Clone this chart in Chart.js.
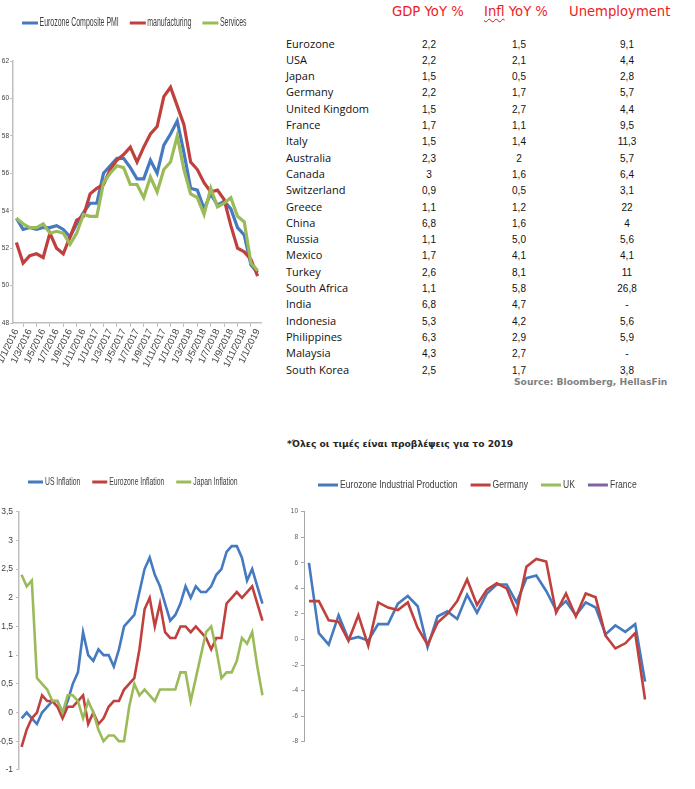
<!DOCTYPE html>
<html>
<head>
<meta charset="utf-8">
<script src="https://cdn.jsdelivr.net/npm/chart.js@4.4.1/dist/chart.umd.min.js"></script>
<style>
    html, body { margin: 0; padding: 0; background: #fff; }
    #page { position: relative; width: 695px; height: 789px; overflow: hidden; background: #fff; }
    canvas { position: absolute; }
    .hdr { position: absolute; top: 3px; font-family: "DejaVu Sans", sans-serif; font-size: 13.2px; color: #ee1c24; line-height: 18px; white-space: nowrap; }
    .wavy { text-decoration: underline wavy #e01010; text-decoration-thickness: 1px; text-underline-offset: 2px; text-decoration-skip-ink: none; }
    .cty { position: absolute; left: 286px; font-family: "Open Sans", sans-serif; font-size: 11px; color: #111; line-height: 16px; white-space: nowrap; }
    .val { position: absolute; width: 60px; margin-left: -30px; text-align: center; font-family: "Liberation Sans", sans-serif; font-size: 10px; color: #111; line-height: 16px; }
    .src { position: absolute; left: 514px; top: 375px; font-family: "DejaVu Sans", sans-serif; font-weight: bold; font-size: 9.2px; color: #7f7f7f; line-height: 14px; white-space: nowrap; }
    .note { position: absolute; left: 287px; top: 436.5px; font-family: "DejaVu Sans", sans-serif; font-weight: bold; font-size: 9.2px; color: #262626; line-height: 14px; white-space: nowrap; }
</style>
</head>
<body>
<div id="page">
    <canvas id="pmi" width="272" height="392" style="left:0;top:0"></canvas>
    <canvas id="infl" width="272" height="312" style="left:0;top:466px"></canvas>
    <canvas id="ip" width="375" height="280" style="left:285px;top:470px"></canvas>

    <div class="hdr" style="left:392px">GDP YoY %</div>
    <div class="hdr" style="left:484px"><span class="wavy">Infl</span> YoY %</div>
    <div class="hdr" style="left:569px">Unemployment</div>
    <div id="tabla"></div>
    <div class="src">Source: Bloomberg, HellasFin</div>
    <div class="note">*Όλες οι τιμές είναι προβλέψεις για το 2019</div>
</div>

<script>
// ==============================================================================
// 1. DATOS
// ==============================================================================

// PMI zona euro (mensual, ene 2016 - ene 2019)
const pmiMonths = [
    '1/1/2016', '1/2/2016', '1/3/2016', '1/4/2016', '1/5/2016', '1/6/2016', '1/7/2016', '1/8/2016', '1/9/2016', '1/10/2016', '1/11/2016', '1/12/2016',
    '1/1/2017', '1/2/2017', '1/3/2017', '1/4/2017', '1/5/2017', '1/6/2017', '1/7/2017', '1/8/2017', '1/9/2017', '1/10/2017', '1/11/2017', '1/12/2017',
    '1/1/2018', '1/2/2018', '1/3/2018', '1/4/2018', '1/5/2018', '1/6/2018', '1/7/2018', '1/8/2018', '1/9/2018', '1/10/2018', '1/11/2018', '1/12/2018',
    '1/1/2019'
];
const pmiComposite = [53.6, 53.0, 53.1, 53.0, 53.1, 53.1, 53.2, 53.0, 52.6, 53.3, 53.9, 54.4, 54.4, 56.0, 56.4, 56.8, 56.8, 56.3, 55.7, 55.7, 56.7, 56.0, 57.5, 58.1, 58.8, 57.1, 55.2, 55.1, 54.1, 54.9, 54.3, 54.5, 54.1, 53.1, 52.7, 51.1, 50.7];
const pmiManufacturing = [52.3, 51.2, 51.6, 51.7, 51.5, 52.8, 52.0, 51.7, 52.6, 53.5, 53.7, 54.9, 55.2, 55.4, 56.2, 56.7, 57.0, 57.4, 56.6, 57.4, 58.1, 58.5, 60.1, 60.6, 59.6, 58.6, 56.6, 56.2, 55.5, 55.0, 55.1, 54.6, 53.2, 52.0, 51.8, 51.4, 50.5];
const pmiServices = [53.6, 53.3, 53.1, 53.1, 53.3, 52.8, 52.9, 52.8, 52.2, 52.8, 53.8, 53.7, 53.7, 55.5, 56.0, 56.4, 56.3, 55.4, 55.4, 54.7, 55.8, 55.0, 56.2, 56.6, 58.0, 56.2, 54.9, 54.7, 53.8, 55.2, 54.2, 54.4, 54.7, 53.7, 53.4, 51.2, 50.8];
const pmiTicks = [48, 50, 52, 54, 56, 58, 60, 62];

// Inflación (mensual, ene 2015 - dic 2018)
const inflMonths = [
    '2015-01', '2015-02', '2015-03', '2015-04', '2015-05', '2015-06', '2015-07', '2015-08', '2015-09', '2015-10', '2015-11', '2015-12',
    '2016-01', '2016-02', '2016-03', '2016-04', '2016-05', '2016-06', '2016-07', '2016-08', '2016-09', '2016-10', '2016-11', '2016-12',
    '2017-01', '2017-02', '2017-03', '2017-04', '2017-05', '2017-06', '2017-07', '2017-08', '2017-09', '2017-10', '2017-11', '2017-12',
    '2018-01', '2018-02', '2018-03', '2018-04', '2018-05', '2018-06', '2018-07', '2018-08', '2018-09', '2018-10', '2018-11', '2018-12'
];
const usInflation = [-0.1, 0.0, -0.1, -0.2, 0.0, 0.1, 0.2, 0.2, 0.0, 0.2, 0.5, 0.7, 1.4, 1.0, 0.9, 1.1, 1.0, 1.0, 0.8, 1.1, 1.5, 1.6, 1.7, 2.1, 2.5, 2.7, 2.4, 2.2, 1.9, 1.6, 1.7, 1.9, 2.2, 2.0, 2.2, 2.1, 2.1, 2.2, 2.4, 2.5, 2.8, 2.9, 2.9, 2.7, 2.3, 2.5, 2.2, 1.9];
const euInflation = [-0.6, -0.3, -0.1, 0.0, 0.3, 0.2, 0.2, 0.1, -0.1, 0.1, 0.1, 0.2, 0.3, -0.2, 0.0, -0.2, -0.1, 0.1, 0.2, 0.2, 0.4, 0.5, 0.6, 1.1, 1.8, 2.0, 1.5, 1.9, 1.4, 1.3, 1.3, 1.5, 1.5, 1.4, 1.5, 1.4, 1.3, 1.1, 1.3, 1.3, 1.9, 2.0, 2.1, 2.0, 2.1, 2.2, 1.9, 1.6];
const jpInflation = [2.4, 2.2, 2.3, 0.6, 0.5, 0.4, 0.2, 0.2, 0.0, 0.3, 0.3, 0.2, -0.1, 0.2, 0.0, -0.3, -0.5, -0.4, -0.4, -0.5, -0.5, 0.1, 0.5, 0.3, 0.4, 0.3, 0.2, 0.4, 0.4, 0.4, 0.4, 0.7, 0.7, 0.2, 0.6, 1.0, 1.4, 1.5, 1.1, 0.6, 0.7, 0.7, 0.9, 1.3, 1.2, 1.4, 0.8, 0.3];

// Producción industrial (mensual, ene 2016 - nov 2018)
const ipMonths = [
    '2016-01', '2016-02', '2016-03', '2016-04', '2016-05', '2016-06', '2016-07', '2016-08', '2016-09', '2016-10', '2016-11', '2016-12',
    '2017-01', '2017-02', '2017-03', '2017-04', '2017-05', '2017-06', '2017-07', '2017-08', '2017-09', '2017-10', '2017-11', '2017-12',
    '2018-01', '2018-02', '2018-03', '2018-04', '2018-05', '2018-06', '2018-07', '2018-08', '2018-09', '2018-10', '2018-11'
];
const ipEurozone = [6.0, 0.5, -0.4, 1.9, 0.0, 0.2, -0.1, 1.2, 1.2, 2.8, 3.4, 2.6, -0.6, 1.8, 2.2, 1.6, 3.5, 2.1, 3.6, 4.3, 4.3, 2.9, 4.8, 5.0, 3.8, 2.3, 3.0, 1.9, 2.9, 2.5, 0.4, 1.1, 0.6, 1.2, -3.3];
const ipGermany = [3.0, 3.0, 1.5, 1.4, -0.1, 1.9, -0.5, 2.9, 2.5, 2.3, 2.9, 0.9, -0.4, 1.3, 2.0, 3.0, 4.7, 2.7, 3.9, 4.4, 4.0, 2.1, 5.7, 6.3, 6.1, 2.1, 3.6, 1.8, 3.6, 3.3, 0.3, -0.7, -0.3, 0.5, -4.7];
const ipUK = [];
const ipFrance = [];

// Tabla de previsiones 2019
const countries = ['Eurozone', 'USA', 'Japan', 'Germany', 'United Kingdom', 'France', 'Italy', 'Australia', 'Canada', 'Switzerland', 'Greece', 'China', 'Russia', 'Mexico', 'Turkey', 'South Africa', 'India', 'Indonesia', 'Philippines', 'Malaysia', 'South Korea'];
const gdpYoY = ['2,2', '2,2', '1,5', '2,2', '1,5', '1,7', '1,5', '2,3', '3', '0,9', '1,1', '6,8', '1,1', '1,7', '2,6', '1,1', '6,8', '5,3', '6,3', '4,3', '2,5'];
const inflYoY = ['1,5', '2,1', '0,5', '1,7', '2,7', '1,1', '1,4', '2', '1,6', '0,5', '1,2', '1,6', '5,0', '4,1', '8,1', '5,8', '4,7', '4,2', '2,9', '2,7', '1,7'];
const unemployment = ['9,1', '4,4', '2,8', '5,7', '4,4', '9,5', '11,3', '5,7', '6,4', '3,1', '22', '4', '5,6', '4,1', '11', '26,8', '-', '5,6', '5,9', '-', '3,8'];

// ==============================================================================
// 2. ESTILOS COMUNES
// ==============================================================================

const BLUE = '#4579c0';
const RED = '#c0403d';
const GREEN = '#9bbb59';
const PURPLE = '#8064a2';
const AXIS = '#bfbfbf';
const SANS = '"Liberation Sans", Arial, sans-serif';

// Leyenda propia: texto comprimido en horizontal (tipo Arial Narrow)
const leyendaAngosta = {
    id: 'leyendaAngosta',
    afterDraw(chart, args, opts) {
        const ctx = chart.ctx;
        ctx.save();
        ctx.font = `${opts.size}px ${SANS}`;
        ctx.textBaseline = 'middle';
        let x = opts.x;
        chart.data.datasets.forEach(ds => {
            ctx.fillStyle = ds.borderColor;
            ctx.fillRect(x, opts.y - 1.5, opts.box, 3);
            x += opts.box + opts.gap;
            ctx.save();
            ctx.translate(x, opts.y);
            ctx.scale(opts.squeeze, 1);
            ctx.fillStyle = '#404040';
            ctx.fillText(ds.label, 0, 0);
            ctx.restore();
            x += ctx.measureText(ds.label).width * opts.squeeze + opts.spacing;
        });
        ctx.restore();
    }
};

function serie(label, data, color, order, width) {
    return { label, data, borderColor: color, backgroundColor: color, order, borderWidth: width, pointRadius: 0, tension: 0 };
}

const conComa = v => String(v).replace('.', ',');

// ==============================================================================
// 3. GRÁFICO PMI
// ==============================================================================

new Chart(document.getElementById('pmi'), {
    type: 'line',
    data: {
        labels: pmiMonths,
        datasets: [
            serie('Eurozone Composite PMI', pmiComposite, BLUE, 2, 3.2),
            serie('manufacturing', pmiManufacturing, RED, 1, 3.2),
            serie('Services', pmiServices, GREEN, 0, 3.2)
        ]
    },
    options: {
        responsive: false,
        animation: false,
        layout: { padding: { top: 61, right: 11, left: 0, bottom: 0 } },
        plugins: {
            legend: { display: false },
            tooltip: { enabled: false },
            leyendaAngosta: { x: 22, y: 23, size: 12, squeeze: 0.58, box: 16, gap: 1.5, spacing: 11 }
        },
        scales: {
            x: {
                offset: true,
                grid: { offset: true, drawOnChartArea: false, tickLength: 4, color: AXIS },
                border: { color: AXIS, width: 1.5 },
                ticks: {
                    autoSkip: false, minRotation: 64, maxRotation: 64, padding: 0,
                    color: '#404040', font: { family: SANS, size: 9.5 },
                    callback(value, i) { return i % 2 === 0 ? this.getLabelForValue(value) : null; }
                },
                afterFit(scale) { scale.height = 69; }
            },
            y: {
                min: pmiTicks[0],
                max: pmiTicks[pmiTicks.length - 1],
                afterBuildTicks(scale) { scale.ticks = pmiTicks.map(v => ({ value: v })); },
                grid: { drawOnChartArea: false, tickLength: 3, color: AXIS },
                border: { color: AXIS, width: 1.5 },
                ticks: { padding: 1, color: '#404040', font: { family: SANS, size: 6.5 } },
                afterFit(scale) { scale.width = 13; }
            }
        }
    },
    plugins: [leyendaAngosta]
});

// ==============================================================================
// 4. GRÁFICO INFLACIÓN
// ==============================================================================

new Chart(document.getElementById('infl'), {
    type: 'line',
    data: {
        labels: inflMonths,
        datasets: [
            serie('US Inflation', usInflation, BLUE, 2, 2.6),
            serie('Eurozone Inflation', euInflation, RED, 1, 2.6),
            serie('Japan Inflation', jpInflation, GREEN, 0, 2.6)
        ]
    },
    options: {
        responsive: false,
        animation: false,
        layout: { padding: { top: 45.7, right: 7, left: 0, bottom: 8 } },
        plugins: {
            legend: { display: false },
            tooltip: { enabled: false },
            leyendaAngosta: { x: 28, y: 16, size: 11, squeeze: 0.62, box: 15, gap: 2, spacing: 12 }
        },
        scales: {
            x: { display: false, offset: true },
            y: {
                min: -1,
                max: 3.5,
                grid: { drawOnChartArea: false, tickLength: 3, color: AXIS },
                border: { color: AXIS, width: 1.5 },
                ticks: { stepSize: 0.5, padding: 3, color: '#404040', font: { family: SANS, size: 8.5 }, callback: conComa },
                afterFit(scale) { scale.width = 19; }
            }
        }
    },
    plugins: [leyendaAngosta]
});

// ==============================================================================
// 5. GRÁFICO PRODUCCIÓN INDUSTRIAL
// ==============================================================================

new Chart(document.getElementById('ip'), {
    type: 'line',
    data: {
        labels: ipMonths,
        datasets: [
            serie('Eurozone Industrial Production', ipEurozone, BLUE, 3, 2.6),
            serie('Germany', ipGermany, RED, 2, 2.6),
            serie('UK', ipUK, GREEN, 1, 2.6),
            serie('France', ipFrance, PURPLE, 0, 2.6)
        ]
    },
    options: {
        responsive: false,
        animation: false,
        layout: { padding: { top: 41.7, right: 10, left: 0, bottom: 8.3 } },
        plugins: {
            legend: { display: false },
            tooltip: { enabled: false },
            leyendaAngosta: { x: 33, y: 15, size: 10, squeeze: 0.86, box: 20, gap: 2, spacing: 13 }
        },
        scales: {
            x: { display: false, offset: true },
            y: {
                min: -8,
                max: 10,
                grid: { drawOnChartArea: false, tickLength: 3, color: '#a6a6a6' },
                border: { color: '#a6a6a6', width: 1 },
                ticks: { stepSize: 2, padding: 3, color: '#595959', font: { family: SANS, size: 6.5 } },
                afterFit(scale) { scale.width = 19; }
            }
        }
    },
    plugins: [leyendaAngosta]
});

// ==============================================================================
// 6. TABLA DE PREVISIONES
// ==============================================================================

const tabla = document.getElementById('tabla');
countries.forEach((pais, i) => {
    const yc = 43.5 + i * 16.3;
    tabla.innerHTML += `
        <div class="cty" style="top:${yc - 8}px">${pais}</div>
        <div class="val" style="left:429px;top:${yc - 7}px">${gdpYoY[i]}</div>
        <div class="val" style="left:519px;top:${yc - 7}px">${inflYoY[i]}</div>
        <div class="val" style="left:627px;top:${yc - 7}px">${unemployment[i]}</div>
    `;
});
</script>
</body>
</html>
